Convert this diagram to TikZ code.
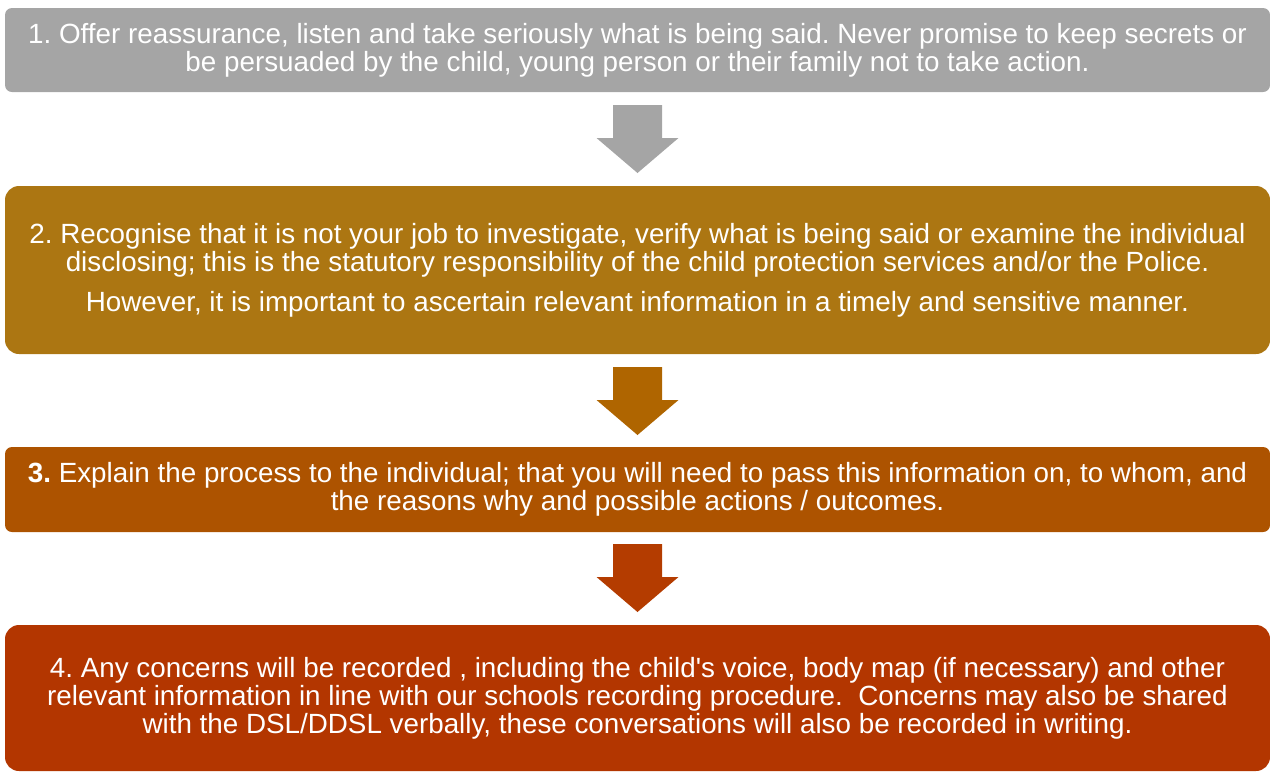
\documentclass[tikz,border=0pt]{standalone}
\usepackage{fontspec}
\setmainfont{Liberation Sans}
\newfontfamily\nomapfont{Liberation Sans}
\frenchspacing
\definecolor{cgray}{HTML}{A5A5A5}
\definecolor{cgold}{HTML}{AC7612}
\definecolor{carrowb}{HTML}{AF6500}
\definecolor{cbrown}{HTML}{AD5300}
\definecolor{carrowc}{HTML}{B43C00}
\definecolor{cred}{HTML}{B33600}
\begin{document}
\begin{tikzpicture}[x=1pt,y=-1pt,
  stepbox/.style={draw=none, text=white, align=center, inner sep=0pt,
    minimum width=1265pt, font=\fontsize{27.8}{28}\selectfont},
  blockarrow/.pic={\fill[pic actions] (-24.5,0) -- (24.5,0) -- (24.5,33) -- (41,33) -- (0,68) -- (-41,33) -- (-24.5,33) -- cycle;}
]
\useasboundingbox (0,0) rectangle (1270,772);
\node[stepbox, fill=cgray, rounded corners=7pt, minimum height=84pt] (b1) at (637.5,50)
  {1. Offer reassurance, listen and take seriously what is being said. Never promise to keep secrets or\\
   be persuaded by the child, young person or their family not to take action.};
\pic[fill=cgray] (a1) at (637.5,105) {blockarrow};
\node[stepbox, fill=cgold, rounded corners=14pt, minimum height=168pt] (b2) at (637.5,270)
  {2. Recognise that it is not your job to investigate, verify what is being said or examine the individual\\
   disclosing; this is the statutory responsibility of the child protection services and/or the Police.\\[12pt]
   However, it is important to ascertain relevant information in a timely and sensitive manner.};
\pic[fill=carrowb] (a2) at (637.5,367) {blockarrow};
\node[stepbox, fill=cbrown, rounded corners=7pt, minimum height=85pt] (b3) at (637.5,489.5)
  {\textbf{3.} Explain the process to the individual; that you will need to pass this information on, to whom, and\\
   the reasons why and possible actions / outcomes.};
\pic[fill=carrowc] (a3) at (637.5,544) {blockarrow};
\node[stepbox, fill=cred, rounded corners=14pt, minimum height=146pt] (b4) at (637.5,698)
  {4. Any concerns will be recorded , including the child{\nomapfont'}s voice, body map (if necessary) and other\\
   relevant information in line with our schools recording procedure.\ \ Concerns may also be shared\\
   with the DSL/DDSL verbally, these conversations will also be recorded in writing.};
\end{tikzpicture}
\end{document}
